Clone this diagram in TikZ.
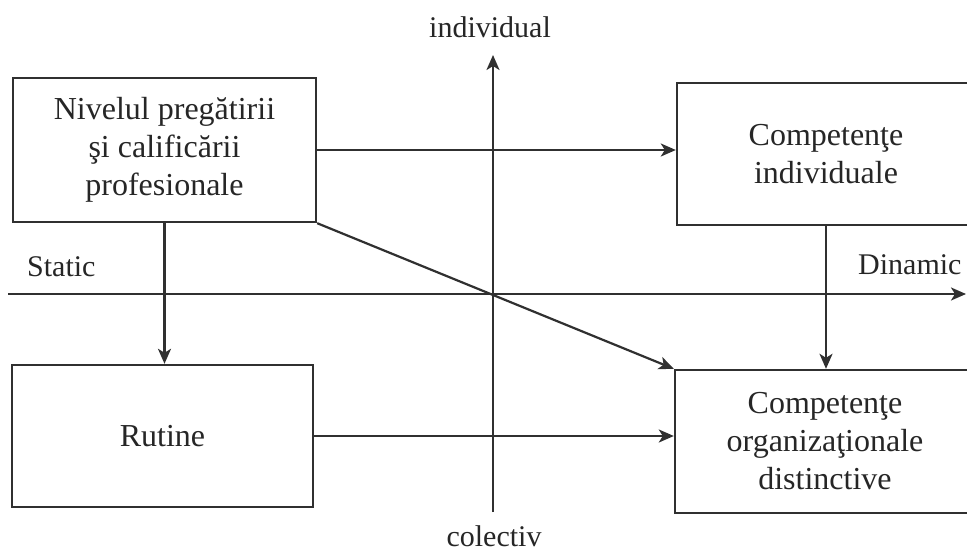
\documentclass[tikz,border=0pt]{standalone}
\usepackage{fontspec}
\setmainfont{Liberation Serif}
\usetikzlibrary{arrows.meta,calc}
\definecolor{ink}{HTML}{303030}
\definecolor{txt}{HTML}{262626}
\begin{document}
\begin{tikzpicture}[x=1pt,y=-1pt,
  every node/.style={text=txt},
  box/.style={draw=ink,line width=2.4pt,rectangle,align=center,
    font=\fontsize{32}{38}\selectfont,inner sep=0pt},
  lbl/.style={font=\fontsize{30}{36}\selectfont,inner sep=0pt},
  arr/.style={draw=ink,line width=2.2pt,-{Stealth[length=15pt,width=13pt,inset=4pt]}},
  axis/.style={draw=ink,line width=2.4pt,-{Stealth[length=15pt,width=13pt,inset=4pt]}}]
\clip (0,0) rectangle (967,554);
\fill[white] (0,0) rectangle (967,554);

% axes
\coordinate (hL) at (8,294);
\coordinate (hR) at (966,294);
\coordinate (vB) at (493,512);
\coordinate (vT) at (493,55);
\draw[axis] (hL) -- (hR);
\draw[axis] (vB) -- (vT);

% axis labels
\node[lbl,anchor=base] (ind) at (490,37) {individual};
\node[lbl,anchor=base] (col) at (494,546) {colectiv};
\node[lbl,anchor=base west] (sta) at (27,276) {Static};
\node[lbl,anchor=base west] (din) at (858,274) {Dinamic};

% boxes
\node[box,minimum width=303,minimum height=144] (b1) at (164.5,150)
  {Nivelul pregătirii\\şi calificării\\profesionale};
\node[box,minimum width=298,minimum height=142] (b2) at (826,154)
  {Competenţe\\individuale};
\node[box,minimum width=301,minimum height=142] (b3) at (162.5,436)
  {Rutine};
\node[box,minimum width=300,minimum height=143] (b4) at (825,441.5)
  {Competenţe\\organizaţionale\\distinctive};

% connectors
\draw[arr] (b1.east) -- (b1.east -| b2.west);
\draw[arr] (b1.south) -- (b1.south |- b3.north);
\draw[arr] (b1.south east) -- (b4.north west);
\draw[arr] (b2.south) -- (b2.south |- b4.north);
\draw[arr] (b3.east) -- (b3.east -| b4.west);
\end{tikzpicture}
\end{document}
